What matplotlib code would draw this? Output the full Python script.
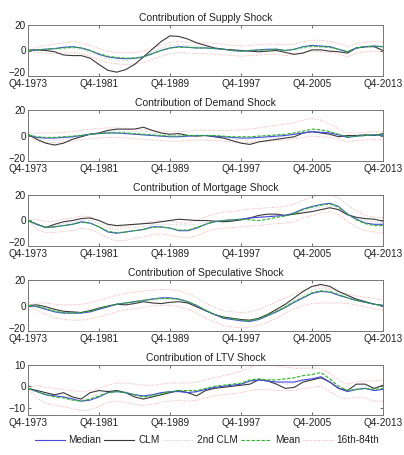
import numpy as np
import matplotlib
matplotlib.use("Agg")
import matplotlib.pyplot as plt
from matplotlib.transforms import ScaledTranslation

plt.rcParams['font.family'] = ['Liberation Sans', 'DejaVu Sans']

# --- data: annual (Q4) readings, Q4-1973 .. Q4-2013 ---
quarters = np.arange(0, 161, 4)
tick_pos = [0, 32, 64, 96, 128, 160]
tick_labels = ["Q4-1973", "Q4-1981", "Q4-1989", "Q4-1997", "Q4-2005", "Q4-2013"]

titles = ["Contribution of Supply Shock", "Contribution of Demand Shock",
          "Contribution of Mortgage Shock", "Contribution of Speculative Shock",
          "Contribution of LTV Shock"]

# Supply
med1 = [0, 0.5, 1, 1.5, 2.5, 3, 2, 0, -3, -5, -6, -6.5, -6, -5, -2.5, 0, 2, 3, 2.5, 2, 2, 1.5, 1, 0, -0.5, 0, 0.5, 1, 1, 0, 1, 3, 4, 3.5, 3, 1, -1, 2, 3, 3.5, 3]
clm1 = [0, 0.5, 0, -1, -3.5, -4, -4, -6, -11, -15.5, -17, -15, -11, -5, 1, 7, 11.5, 11, 9, 6, 4, 2, 1, 0.5, 0, -0.5, -1, -0.5, 0, -1.5, -3, -2, 0.5, 0.5, -0.5, -1, -2, 2, 3, 3, 0]
clm2nd1 = [0, 0.5, 0.5, 0.5, 1, 1.5, 0.5, -1.5, -4, -6.5, -8, -8, -7, -5, -1.5, 1.5, 4, 4.5, 4, 3, 2.5, 2, 1, 0.5, 0, 0, 0, 0.5, 0.5, 0, 0.5, 1.5, 2.5, 2.5, 2, 0.5, -1, 1.5, 2.5, 3, 2]
mean1 = [0, 0.5, 1, 1.5, 2, 2.5, 2, 0, -2.5, -4.5, -5.5, -6, -6, -5, -2.5, 0, 2, 2.5, 2.5, 2, 2, 1.5, 1, 0, -0.5, 0, 0.5, 0.5, 1, 0, 1, 2.5, 3.5, 3, 2.5, 1, -1, 2, 3, 3.5, 3]
up1 = [0, 2.5, 4, 5, 6, 7, 6, 4, 1.5, -0.5, -1.5, -2, -1.5, -0.5, 2, 4.5, 6.5, 7, 6.5, 6, 6, 5.5, 5, 4, 3.5, 4, 4.5, 5, 5, 4.5, 5, 7, 8, 8, 7, 5.5, 3, 5.5, 6.5, 7, 6.5]
lo1 = [0, -1.5, -2, -2.5, -2, -1.5, -2.5, -4.5, -7.5, -9.5, -10.5, -11, -10.5, -9.5, -7, -4.5, -2.5, -1.5, -2, -2.5, -2.5, -3, -3.5, -4, -4.5, -4, -3.5, -3, -3, -4, -3, -1.5, -0.5, -1, -1.5, -3, -5, -2, -1, -0.5, -1]

# Demand
med2 = [0.5, -1.5, -2, -2, -1.5, -1, 0, 1, 1.5, 2, 2, 1.5, 1, 0.5, 0, -0.5, -1, -1, -0.5, 0, 0, -0.5, -1, -1.5, -2, -2, -1.5, -1, -0.5, 0, 1, 2, 3, 2.5, 2, 0.5, -1.5, -0.5, 0, 0.5, 0]
clm2 = [1, -3, -6, -7.5, -6, -3, -1, 1, 2, 4, 5, 5, 5, 6.5, 4, 2, 1, 1.5, 0, -0.5, 0, -1, -2, -4, -6, -7, -5, -4, -3, -2, -1, 2, 3, 2, 1, -1, 0, 0, 0.5, 0, 1.5]
clm2nd2 = [0.5, -2, -3.5, -4, -3, -1.5, 0, 1, 2, 3, 3.5, 3, 3, 3.5, 2, 1, 0, 0.5, 0, 0, 0, -0.5, -1.5, -2.5, -3.5, -4, -3, -2, -1.5, -0.5, 0.5, 2, 3.5, 3, 2, 0.5, -0.5, 0, 0.5, 0.5, 1]
mean2 = [0.5, -1, -1.5, -1.5, -1, -0.5, 0, 1, 1.5, 2, 2, 2, 1.5, 1, 0.5, 0, -0.5, -0.5, 0, 0, 0, 0, -0.5, -1, -1, -1, -0.5, 0, 0.5, 1, 2, 3.5, 5, 4.5, 3, 1, -1, -0.5, 0, 0.5, 0.5]
up2 = [1, 2, 2, 2, 2.5, 3, 4, 5, 5.5, 6, 6, 5.5, 5, 4.5, 4, 3.5, 3, 3, 3.5, 4, 4, 4, 4, 4, 4.5, 5, 6, 7, 8, 9, 10, 12, 13.5, 12, 9, 5, 2, 2, 2.5, 3, 3]
lo2 = [0, -4.5, -5.5, -5.5, -5, -4.5, -3.5, -2.5, -2, -1.5, -1.5, -2, -2.5, -3, -3.5, -4, -4.5, -4.5, -4, -3.5, -3.5, -4, -4.5, -5, -5.5, -5.5, -5, -4.5, -4, -3.5, -2.5, -1.5, -0.5, -1, -1.5, -3, -5, -4, -3.5, -3, -3.5]

# Mortgage
med3 = [0, -3, -5.5, -5, -4, -3, -1, -2, -5, -9, -10, -9, -8, -7, -5, -5, -6, -8, -8, -6, -3, -1, 0, 0.5, 1, 2, 2.5, 3, 3.5, 4, 6, 9, 11, 12.5, 13.5, 11, 5, 1, -2, -3, -3]
clm3 = [0, -3, -5.5, -3, -1, 0, 1.5, 2, 0, -3, -4, -3.5, -3, -2.5, -2, -1, 0, 1, 0.5, 0, 0, -0.5, -1, -0.5, 0.5, 2, 4, 5, 5, 4, 5, 6, 7, 8.5, 10, 8.5, 4.5, 2.5, 1.5, 1, -0.5]
clm2nd3 = [0, -3, -5, -4, -2.5, -1.5, 0, 0, -2.5, -6, -7, -6, -5.5, -5, -3.5, -3, -3, -3.5, -3.5, -3, -1.5, -0.5, -0.5, 0, 0.5, 1.5, 3, 3.5, 4, 4, 5, 7, 9, 10.5, 11.5, 9.5, 5, 2, 0, -1, -2]
mean3 = [0, -3, -5.5, -5, -4, -3, -1.5, -2, -5, -8.5, -9.5, -9, -8, -7, -5.5, -5, -6, -7.5, -7.5, -5.5, -3, -1, 0, 0.5, 1, 0.5, 0, 1, 2.5, 3.5, 5.5, 8.5, 10.5, 12, 13, 10.5, 5, 0.5, -2.5, -4, -4]
up3 = [0, 1, -1, -0.5, 1, 2, 3.5, 3, 0, -4, -5, -4.5, -3.5, -2, -0.5, 0, -0.5, -2, -2, 0, 3, 5, 6.5, 7, 8, 9, 9.5, 10, 10.5, 11, 13, 16, 18.5, 20, 20, 18, 12, 7.5, 4, 2.5, 2]
lo3 = [0, -7, -9.5, -9.5, -8.5, -8, -6, -7, -10, -14, -16, -15.5, -14, -13, -11, -10.5, -11.5, -13, -13.5, -12, -9, -7, -6, -5.5, -5, -4.5, -4, -3, -2.5, -2, -1, 2, 4, 6, 7, 4.5, -1, -5, -8, -9, -10]

# Speculative
med4 = [0, -1, -3, -5, -6, -6, -6, -5, -3, -1, 1, 2, 3, 4, 5, 6, 6, 5, 3, 0, -4, -7, -10, -11, -12, -12.5, -11, -8, -5, -1.5, 2.5, 6, 9.5, 11, 10.5, 8, 6, 4, 2.5, 1, 0]
clm4 = [0, 0.5, -1, -3, -4.5, -5, -5.5, -4, -2, -0.5, 1, 0.5, 1.5, 3, 2, 1.5, 2.5, 3, 2, -1, -4, -7, -9, -10, -11, -11.5, -10, -7, -3, 1, 6, 11, 15, 16.5, 15, 11, 8, 5, 3, 1, 0]
clm2nd4 = [0, -0.5, -2, -4, -5, -5.5, -5.5, -4.5, -2.5, -1, 1, 1.5, 2.5, 3.5, 4, 4.5, 5, 4.5, 2.5, -0.5, -4, -7, -9.5, -10.5, -11.5, -12, -10.5, -7.5, -4, 0, 4, 8, 12, 13.5, 12.5, 9.5, 7, 4.5, 3, 1, 0]
mean4 = [0, -0.5, -2.5, -4.5, -5.5, -6, -5.5, -4.5, -2.5, -0.5, 1, 2, 3, 4, 5, 5.5, 5.5, 5, 3, 0, -3.5, -7, -9.5, -10.5, -11.5, -12, -10.5, -7.5, -4.5, -1, 3, 6.5, 10, 11.5, 11, 8.5, 6, 4, 2.5, 1, 0]
up4 = [0, 2, 2, 1, 0.5, 0.5, 1, 2, 4, 6, 8, 9.5, 10.5, 11.5, 12, 12.5, 12.5, 11.5, 9.5, 6, 2, -1.5, -4, -5, -5.5, -5, -3, 0, 3, 6, 9, 12, 14.5, 15, 13.5, 11, 9, 7.5, 6.5, 5.5, 4]
lo4 = [0, -4, -7, -9.5, -11, -11.5, -11.5, -10.5, -9, -7, -5, -3.5, -2.5, -1.5, -0.5, 0, 0, -1, -3, -6, -10, -13, -15.5, -17, -17.5, -17, -15.5, -13, -10, -6, -2.5, 0, 1.5, 2, 2, 2, 1.5, 0.5, -1, -2.5, -4]

# LTV
med5 = [-1, -2.5, -4, -4.5, -5, -6, -7, -6.5, -5, -3, -2.5, -3, -4, -4.5, -4, -3, -2.5, -2.5, -3, -2.5, -1.5, -0.5, 0, 0.5, 1, 2.5, 3, 2.5, 2, 2, 2, 3, 3.5, 4.5, 2, -1, -2.5, -1.5, -1, -2, -1.5]
clm5 = [-1, -2, -3, -4, -3, -5, -6, -3, -2, -2.5, -2, -3, -5, -6, -5, -4, -3, -2, -3, -4.5, -2, -1, -0.5, 0, 0.5, 1, 3, 2.5, 1, -1, -0.5, 2, 3, 4, 2, -1, -2, 1, 1, -1, 0.5]
clm2nd5 = [-1, -2, -3.5, -4, -4, -5.5, -6.5, -5, -3.5, -2.5, -2, -2.5, -4, -5, -4.5, -3.5, -3, -2.5, -2.5, -3, -2, -1, 0, 0.5, 1, 2, 3, 3, 2, 1, 1.5, 2.5, 3, 4, 2.5, 0, -2, -1, 0, -1, 0]
mean5 = [-1, -2.5, -4, -5, -5.5, -6.5, -7, -6, -4.5, -3, -2.5, -3, -4, -5, -4.5, -3.5, -2.5, -2, -2, -2, -1, 0, 0.5, 1, 1.5, 3, 3.5, 3, 3, 3.5, 4, 5, 5.5, 6.5, 3.5, 0, -2, -1.5, -1, -1.5, -1]
up5 = [-1, 0.5, -0.5, -1, -1.5, -2, -2.5, -2, -1, 0.5, 1.5, 1.5, 1, 0.5, 0.5, 1, 1.5, 1.5, 1.5, 2, 3, 4, 5, 6, 7, 9, 10, 10, 9.5, 9, 8.5, 8.5, 8.5, 8.5, 6, 3, 1, 2, 2.5, 2.5, 3]
lo5 = [-1, -5.5, -8, -9, -9.5, -10.5, -11.5, -11, -9.5, -7.5, -7, -7.5, -8.5, -9, -8.5, -7.5, -7, -6.5, -7, -6.5, -5.5, -4.5, -4, -3.5, -3, -2, -1.5, -1.5, -2, -2, -2, -1, -0.5, 0, -2.5, -5, -6, -5, -5.5, -7, -7]

medians = [med1, med2, med3, med4, med5]
clms = [clm1, clm2, clm3, clm4, clm5]
clm2nds = [clm2nd1, clm2nd2, clm2nd3, clm2nd4, clm2nd5]
means = [mean1, mean2, mean3, mean4, mean5]
uppers = [up1, up2, up3, up4, up5]
lowers = [lo1, lo2, lo3, lo4, lo5]

ylims = [(-20, 20), (-20, 20), (-20, 20), (-20, 20), (-13.5, 10)]
yticks = [[-20, 0, 20], [-20, 0, 20], [-20, 0, 20], [-20, 0, 20], [-10, 0, 10]]

fig = plt.figure(figsize=(4.04, 4.55), dpi=100)

# axes boxes (pixel rows of the reference)
tops = [25, 110, 195, 280, 365]
bottoms = [76, 161, 246, 331, 415]
left = 28 / 404
width = 355 / 404

# nudge for the lowest y label so it sits above the date labels
nudge_up = ScaledTranslation(0, 0.035, fig.dpi_scale_trans)

for i in range(5):
    ax = fig.add_axes([left, 1 - bottoms[i] / 455, width, (bottoms[i] - tops[i]) / 455])
    ax.plot(quarters, medians[i], color='#4848e0', lw=0.8, label='Median', zorder=4)
    ax.plot(quarters, clms[i], color='#3a3a3a', lw=0.8, label='CLM', zorder=3)
    ax.plot(quarters, clm2nds[i], color='#c4c4c4', lw=0.7, ls=':', label='2nd CLM', zorder=2)
    ax.plot(quarters, means[i], color='#22b822', lw=0.8, ls='--', dashes=(3, 1.5), label='Mean', zorder=5)
    ax.plot(quarters, uppers[i], color='#ffa8a8', lw=0.7, ls=':', label='16th-84th', zorder=1)
    ax.plot(quarters, lowers[i], color='#ffa8a8', lw=0.7, ls=':', zorder=1)

    ax.set_xlim(0, 160)
    ax.set_ylim(*ylims[i])
    ax.set_xticks(tick_pos)
    ax.set_xticklabels(tick_labels)
    ax.set_yticks(yticks[i])
    ax.set_title(titles[i], fontsize=7.5, pad=3, color='#222222')
    ax.tick_params(direction='in', length=2.5, width=0.6, top=True, right=True,
                   labelsize=7.2, labelcolor='#222222', color='#555555', pad=1.5)
    ax.tick_params(axis='x', pad=2.5)
    for s in ax.spines.values():
        s.set_color('#777777')
        s.set_linewidth(0.7)

    if yticks[i][0] == ylims[i][0]:
        lab = ax.get_yticklabels()[0]
        lab.set_transform(lab.get_transform() + nudge_up)

handles, labels = ax.get_legend_handles_labels()
fig.legend(handles, labels, loc='center', bbox_to_anchor=(207 / 404, 1 - 440 / 455),
           ncol=5, frameon=False, fontsize=7.2, handlelength=3.0, handletextpad=0.4,
           columnspacing=0.3, labelcolor='#222222')

fig.savefig('out.png', dpi=100)
